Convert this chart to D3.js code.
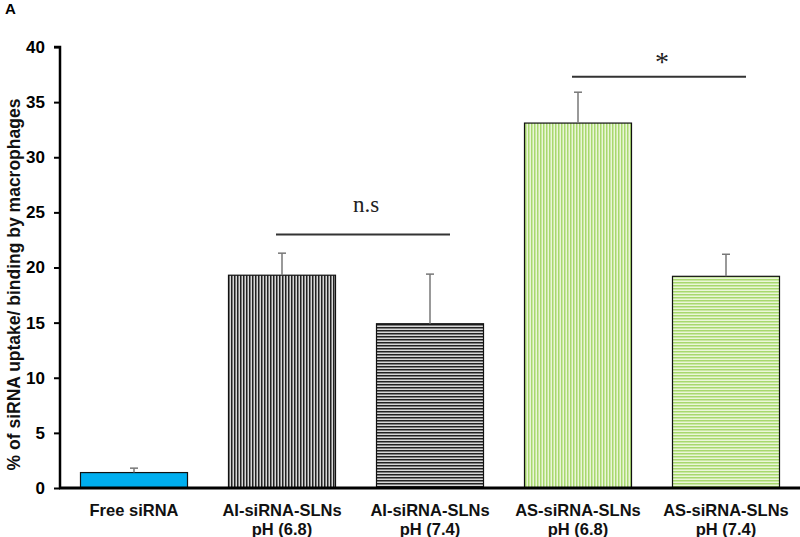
<!DOCTYPE html>
<html><head><meta charset="utf-8">
<script src="https://cdn.jsdelivr.net/npm/d3@7"></script>
<style>body{margin:0;background:#fff}svg{display:block}</style>
</head><body>
<script>
const categories = ["Free siRNA", "AI-siRNA-SLNs|pH (6.8)", "AI-siRNA-SLNs|pH (7.4)", "AS-siRNA-SLNs|pH (6.8)", "AS-siRNA-SLNs|pH (7.4)"];
const values = [1.4, 19.3, 14.9, 33.1, 19.2];
const errors = [0.4, 2.0, 4.5, 2.8, 2.0];
const fills = ["solid", "vblack", "hblack", "vgreen", "hgreen"];
const yTicks = [0, 5, 10, 15, 20, 25, 30, 35, 40];
const sigs = [{from: 1, to: 2, y: 23.0, label: "n.s", ly: 25.0}, {from: 3, to: 4, y: 37.3, label: "*", ly: 38.9}];

const W = 800, H = 537;
const FONT = "Liberation Sans, Arial, sans-serif";
const svg = d3.select("body").append("svg").attr("width", W).attr("height", H);
const defs = svg.append("defs");
function stripe(id, vertical, c1, c2) {
  const p = defs.append("pattern").attr("id", id).attr("patternUnits", "userSpaceOnUse")
    .attr("width", 3).attr("height", 3);
  p.append("rect").attr("width", 3).attr("height", 3).attr("fill", c2);
  if (vertical) p.append("rect").attr("x", 0).attr("y", 0).attr("width", 1.5).attr("height", 3).attr("fill", c1);
  else p.append("rect").attr("x", 0).attr("y", 0).attr("width", 3).attr("height", 1.5).attr("fill", c1);
}
stripe("vblack", true, "#222", "#d8d8d8");
stripe("hblack", false, "#222", "#d8d8d8");
stripe("vgreen", true, "#a8d86e", "#eaf6d8");
stripe("hgreen", false, "#a8d86e", "#eaf6d8");

const x = d3.scaleBand().domain(categories).range([60, 800]).paddingInner(0.277).paddingOuter(0.1385);
const y = d3.scaleLinear().domain([0, 40]).range([488, 47]);

// bars
svg.selectAll("rect.bar").data(categories).enter().append("rect")
  .attr("class", "bar")
  .attr("x", d => x(d)).attr("width", x.bandwidth())
  .attr("y", (d, i) => y(values[i])).attr("height", (d, i) => y(0) - y(values[i]))
  .attr("fill", (d, i) => fills[i] === "solid" ? "#00aeef" : `url(#${fills[i]})`)
  .attr("stroke", "#111").attr("stroke-width", 1.2);

// error bars
const eg = svg.append("g").attr("stroke", "#777").attr("stroke-width", 1.5);
categories.forEach((c, i) => {
  const cx = x(c) + x.bandwidth() / 2;
  eg.append("line").attr("x1", cx).attr("x2", cx).attr("y1", y(values[i])).attr("y2", y(values[i] + errors[i]));
  eg.append("line").attr("x1", cx - 4).attr("x2", cx + 4).attr("y1", y(values[i] + errors[i])).attr("y2", y(values[i] + errors[i]));
});

// axes
const yAxis = svg.append("g").attr("transform", "translate(60,0)")
  .call(d3.axisLeft(y).tickValues(yTicks).tickSize(6).tickFormat(d3.format("d")));
yAxis.select(".domain").attr("stroke", "#000").attr("stroke-width", 2.5).attr("d", `M-6,${y(40)}H0V${y(0)}`);
yAxis.selectAll(".tick line").attr("stroke", "#000").attr("stroke-width", 2);
yAxis.selectAll(".tick text").attr("x", -15).attr("font-family", FONT)
  .attr("font-size", 17).attr("font-weight", "bold").attr("fill", "#000");

svg.append("line").attr("x1", 59).attr("x2", 800).attr("y1", y(0)).attr("y2", y(0))
  .attr("stroke", "#000").attr("stroke-width", 3);

// x labels
categories.forEach(c => {
  const lines = c.split("|");
  const cx = x(c) + x.bandwidth() / 2;
  const t = svg.append("text").attr("x", cx).attr("y", 516)
    .attr("text-anchor", "middle").attr("font-family", FONT)
    .attr("font-size", 16.5).attr("font-weight", "bold").attr("fill", "#111");
  lines.forEach((l, k) => t.append("tspan").attr("x", cx).attr("dy", k ? 18.5 : 0).text(l));
});

// y title
svg.append("text").attr("transform", `translate(20,${(y(0) + y(40)) / 2 + 17}) rotate(-90)`)
  .attr("text-anchor", "middle").attr("font-family", FONT)
  .attr("font-size", 17.5).attr("font-weight", "bold").attr("fill", "#111")
  .text("% of siRNA uptake/ binding by macrophages");

// panel label
svg.append("text").attr("x", 5).attr("y", 14).attr("font-family", FONT)
  .attr("font-size", 15).attr("font-weight", "bold").text("A");

// significance
sigs.forEach(s => {
  const x1 = x(categories[s.from]) + x.bandwidth() / 2 - 6;
  const x2 = x(categories[s.to]) + x.bandwidth() / 2 + 20;
  svg.append("line").attr("x1", x1).attr("x2", x2).attr("y1", y(s.y)).attr("y2", y(s.y))
    .attr("stroke", "#333").attr("stroke-width", 2);
  svg.append("text").attr("x", (x1 + x2) / 2 + 3).attr("y", y(s.ly) + (s.label === "*" ? 12 : 0))
    .attr("text-anchor", "middle").attr("font-family", "Liberation Serif, serif")
    .attr("font-size", s.label === "*" ? 28 : 23).attr("fill", "#222").text(s.label);
});
</script>
</body></html>
